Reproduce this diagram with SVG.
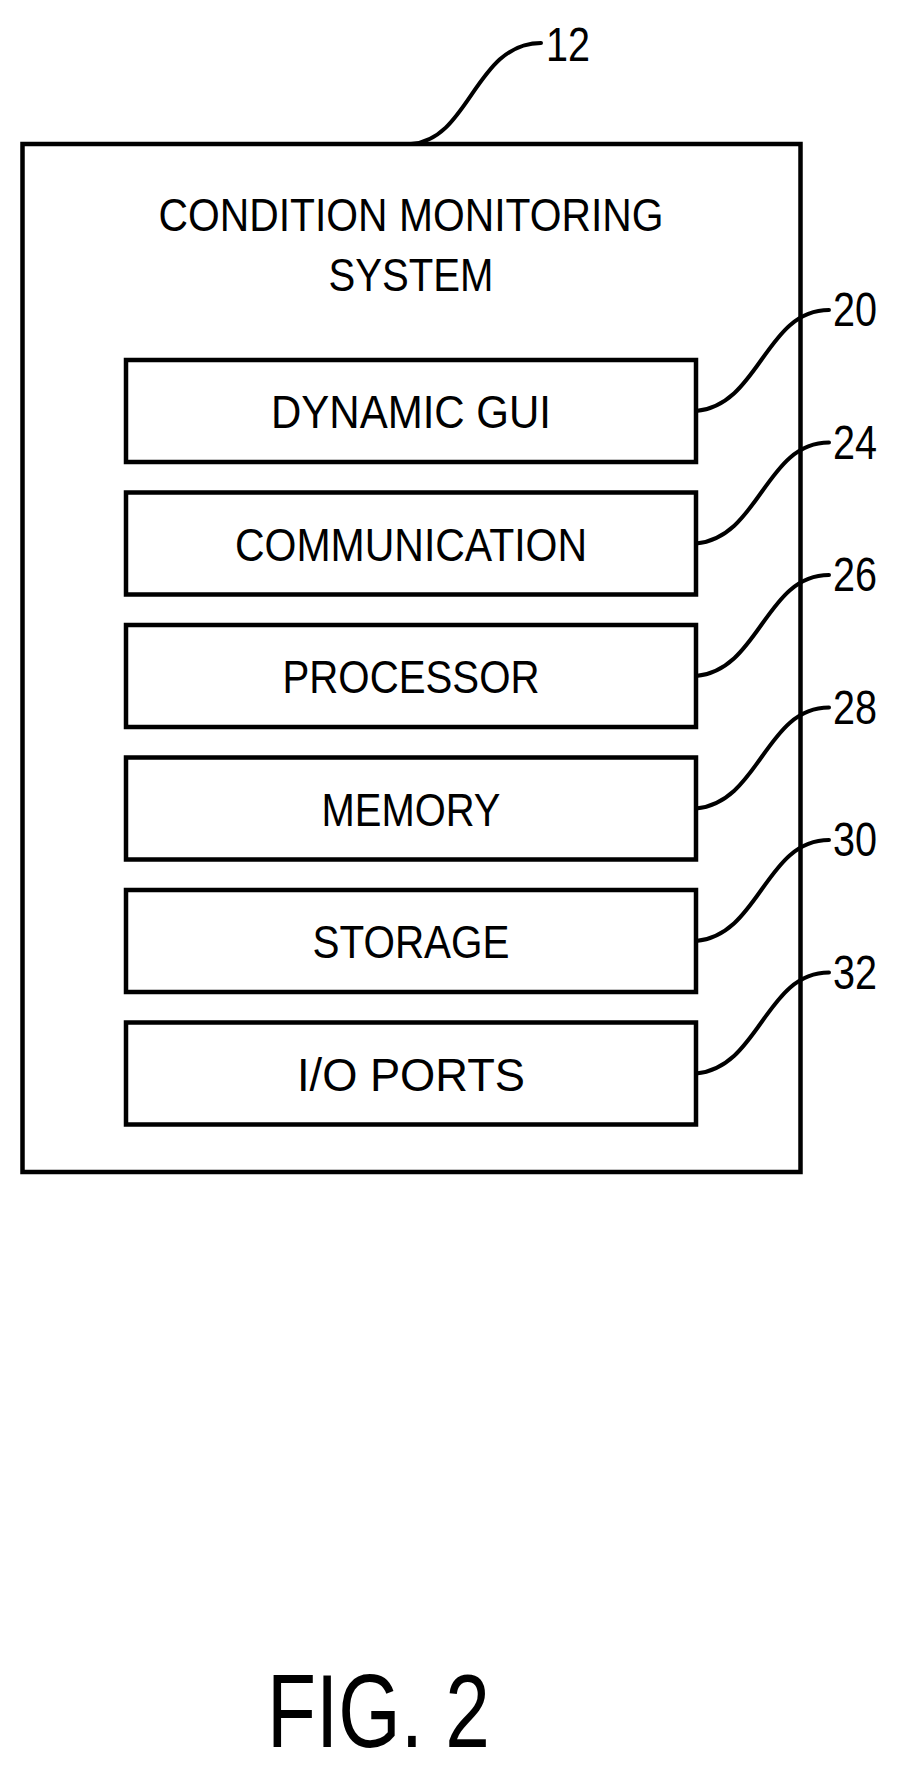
<svg xmlns="http://www.w3.org/2000/svg" width="902" height="1780" viewBox="0 0 902 1780">
<style>
.b{fill:none;stroke:#000;stroke-width:4.5}
.l{fill:none;stroke:#000;stroke-width:4;stroke-linecap:round}
text{font-family:"Liberation Sans Narrow","Liberation Sans",Arial,sans-serif;fill:#000}
.t{font-size:47px;text-anchor:middle}
.n{font-size:48px}
</style>
<rect width="902" height="1780" fill="#fff"/>
<g id="system">
<rect class="b" x="22.5" y="144" width="778" height="1028"/>
<text class="t" x="411" y="231" textLength="505" lengthAdjust="spacingAndGlyphs">CONDITION MONITORING</text>
<text class="t" x="411" y="291" textLength="165" lengthAdjust="spacingAndGlyphs">SYSTEM</text>
</g>
<g id="gui"><rect class="b" x="126" y="360" width="570" height="102"/><text class="t" x="411" y="428" textLength="280" lengthAdjust="spacingAndGlyphs">DYNAMIC  GUI</text></g>
<g id="comm"><rect class="b" x="126" y="492.5" width="570" height="102"/><text class="t" x="411" y="560.5" textLength="352" lengthAdjust="spacingAndGlyphs">COMMUNICATION</text></g>
<g id="proc"><rect class="b" x="126" y="625" width="570" height="102"/><text class="t" x="411" y="693" textLength="257" lengthAdjust="spacingAndGlyphs">PROCESSOR</text></g>
<g id="mem"><rect class="b" x="126" y="757.5" width="570" height="102"/><text class="t" x="411" y="825.5" textLength="179" lengthAdjust="spacingAndGlyphs">MEMORY</text></g>
<g id="stor"><rect class="b" x="126" y="890" width="570" height="102"/><text class="t" x="411" y="958" textLength="197" lengthAdjust="spacingAndGlyphs">STORAGE</text></g>
<g id="io"><rect class="b" x="126" y="1022.5" width="570" height="102"/><text class="t" x="411" y="1090.5" textLength="228" lengthAdjust="spacingAndGlyphs">I/O  PORTS</text></g>
<g id="connectors">
<path class="l" d="M411 144 C470 140,475 43,541 43"/>
<path class="l" d="M696 411 C760 405,765 310,829 310"/>
<path class="l" d="M696 543.5 C760 537.5,765 442.5,829 442.5"/>
<path class="l" d="M696 676 C760 670,765 575,829 575"/>
<path class="l" d="M696 808.5 C760 802.5,765 707.5,829 707.5"/>
<path class="l" d="M696 941 C760 935,765 840,829 840"/>
<path class="l" d="M696 1073.5 C760 1067.5,765 972.5,829 972.5"/>
</g>
<g id="labels">
<text class="n" x="546" y="61" textLength="44" lengthAdjust="spacingAndGlyphs">12</text>
<text class="n" x="833" y="326" textLength="44" lengthAdjust="spacingAndGlyphs">20</text>
<text class="n" x="833" y="458.5" textLength="44" lengthAdjust="spacingAndGlyphs">24</text>
<text class="n" x="833" y="591" textLength="44" lengthAdjust="spacingAndGlyphs">26</text>
<text class="n" x="833" y="723.5" textLength="44" lengthAdjust="spacingAndGlyphs">28</text>
<text class="n" x="833" y="856" textLength="44" lengthAdjust="spacingAndGlyphs">30</text>
<text class="n" x="833" y="988.5" textLength="44" lengthAdjust="spacingAndGlyphs">32</text>
<text x="267" y="1747" font-size="104" textLength="223" lengthAdjust="spacingAndGlyphs">FIG. 2</text>
</g>
</svg>
